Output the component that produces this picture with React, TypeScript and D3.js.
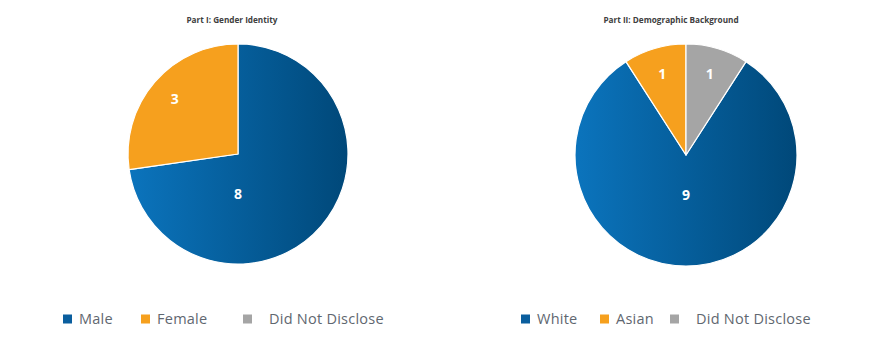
import React from "react";
import * as d3 from "d3";

const genderLabels = ["Male", "Female", "Did Not Disclose"];
const genderValues = [8, 3, 0];
const bgLabels = ["White", "Asian", "Did Not Disclose"];
const bgValues = [9, 1, 1];
const titles = ["Part I: Gender Identity", "Part II: Demographic Background"];

const W = 880;
const H = 349;
const BLUE_L = "#0B74BD";
const BLUE_R = "#004879";
const ORANGE = "#F6A01E";
const GRAY = "#A5A5A5";
const FONT = "'Open Sans', 'Noto Sans', sans-serif";

type PieSpec = {
  id: string;
  title: string;
  titleX: number;
  cx: number;
  cy: number;
  r: number;
  labels: string[];
  values: number[];
  startAngle: number;
  legendX: number[];
};

function Pie({ spec }: { spec: PieSpec }) {
  const total = d3.sum(spec.values);
  const pie = d3
    .pie<number>()
    .sort(null)
    .value((d) => d)
    .startAngle(spec.startAngle)
    .endAngle(spec.startAngle + 2 * Math.PI);
  const arcs = pie(spec.values);
  const arc = d3.arc<d3.PieArcDatum<number>>().innerRadius(0).outerRadius(spec.r);
  const colors = [`url(#grad-${spec.id})`, ORANGE, GRAY];
  const legendColors = ["#0A5E9E", ORANGE, GRAY];

  return (
    <g>
      <defs>
        <linearGradient id={`grad-${spec.id}`} gradientUnits="userSpaceOnUse" x1={-spec.r} x2={spec.r} y1={0} y2={0}>
          <stop offset="0%" stopColor={BLUE_L} />
          <stop offset="100%" stopColor={BLUE_R} />
        </linearGradient>
      </defs>
      <text x={spec.titleX} y={23} textAnchor="middle" fontFamily={FONT} fontWeight={700} fontSize={8.2} fill="#404040">
        {spec.title}
      </text>
      <g transform={`translate(${spec.cx},${spec.cy})`}>
        {arcs.map((a, i) =>
          a.value > 0 ? (
            <path key={i} d={arc(a) || ""} fill={colors[i]} stroke="#ffffff" strokeWidth={1.2} strokeLinejoin="round" />
          ) : null
        )}
        {arcs.map((a, i) => {
          if (a.value <= 0) return null;
          let x: number, y: number;
          if (a.value / total > 0.5) {
            x = 0;
            y = spec.r * 0.36;
          } else {
            const mid = (a.startAngle + a.endAngle) / 2;
            const rr = spec.r * 0.76;
            x = Math.sin(mid) * rr;
            y = -Math.cos(mid) * rr;
          }
          return (
            <text key={i} x={x} y={y} dy="0.36em" textAnchor="middle" fontFamily={FONT} fontWeight={700} fontSize={14} fill="#ffffff">
              {a.value}
            </text>
          );
        })}
      </g>
      {spec.labels.map((l, i) => (
        <g key={l} transform={`translate(${spec.legendX[i]},319)`}>
          <rect x={0} y={-4.5} width={9} height={9} fill={legendColors[i]} />
          <text x={i === 2 ? 26 : 16} y={0} dy="0.35em" fontFamily={FONT} fontSize={14.5} letterSpacing={0.25} fill="#5f6770">
            {l}
          </text>
        </g>
      ))}
    </g>
  );
}

export default function App() {
  const specs: PieSpec[] = [
    {
      id: "a",
      title: titles[0],
      titleX: 232,
      cx: 238,
      cy: 154,
      r: 110,
      labels: genderLabels,
      values: genderValues,
      startAngle: 0,
      legendX: [63, 141, 243],
    },
    {
      id: "b",
      title: titles[1],
      titleX: 671,
      cx: 686,
      cy: 155,
      r: 111,
      labels: bgLabels,
      values: bgValues,
      startAngle: (2 * Math.PI * bgValues[2]) / d3.sum(bgValues),
      legendX: [521, 600, 670],
    },
  ];
  return (
    <svg width={W} height={H} style={{ position: "absolute", left: 0, top: 0, background: "#fff" }}>
      <rect width={W} height={H} fill="#fff" />
      {specs.map((s) => (
        <Pie key={s.id} spec={s} />
      ))}
    </svg>
  );
}
